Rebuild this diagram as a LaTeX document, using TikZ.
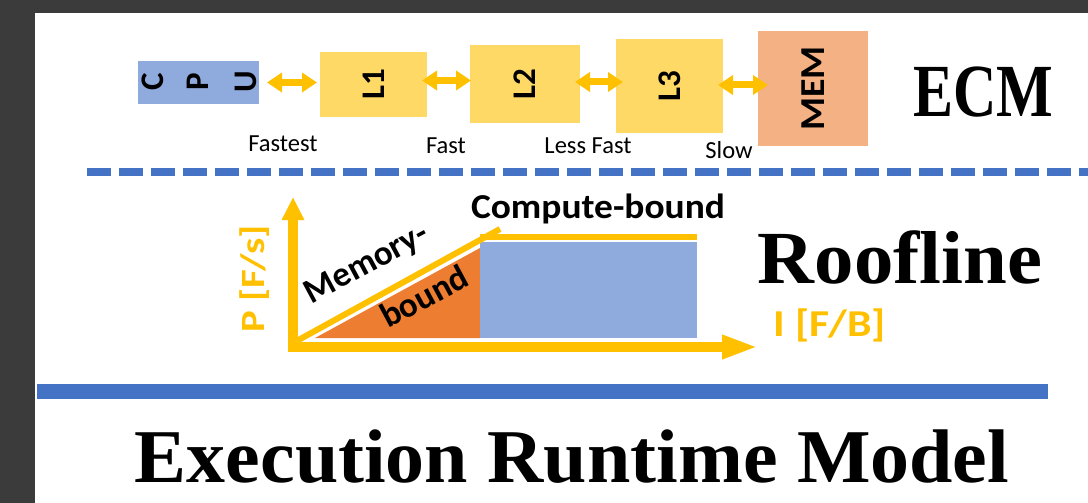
\documentclass[tikz,border=0pt]{standalone}
\usepackage{fontspec}
\setmainfont{Liberation Serif}
\setsansfont{Carlito}
\usetikzlibrary{arrows.meta,calc}
\definecolor{cpublue}{HTML}{8FAADC}
\definecolor{cacheyel}{HTML}{FFD966}
\definecolor{memorg}{HTML}{F4B183}
\definecolor{gold}{HTML}{FFC000}
\definecolor{roofor}{HTML}{ED7D31}
\definecolor{rule}{HTML}{4472C4}
\definecolor{frame}{HTML}{3B3B3B}
\tikzset{
  box/.style={inner sep=0pt, outer sep=0pt, anchor=north west},
  vlabel/.style={font=\sffamily\bfseries\fontsize{33}{33}\selectfont, rotate=90, inner sep=0pt},
  link/.style={gold, line width=7pt,
    {Triangle[length=15pt,width=19pt]}-{Triangle[length=15pt,width=19pt]}},
  speed/.style={font=\sffamily\fontsize{24.5}{24.5}\selectfont, inner sep=0pt},
  title/.style={font=\rmfamily\bfseries\fontsize{75}{75}\selectfont, inner sep=0pt},
  axis/.style={gold, line width=10pt},
  roof/.style={gold, line width=6pt},
  regime/.style={font=\sffamily\bfseries\fontsize{35}{35}\selectfont, inner sep=0pt},
  unit/.style={gold, font=\sffamily\bfseries\fontsize{38}{38}\selectfont, inner sep=0pt}
}
\begin{document}
\begin{tikzpicture}[x=1pt, y=-1pt]
% canvas
\fill[frame] (0,0) rectangle (1088,503);
\fill[white] (35,13) rectangle (1088,503);
\useasboundingbox (0,0) rectangle (1088,503);

% ---- memory hierarchy ----
\node[box, fill=cpublue, minimum width=121pt, minimum height=43pt] (cpu) at (138,61) {};
\node[vlabel] (cc) at (152.5,82) {C};
\node[vlabel] (cp) at (198,82) {P};
\node[vlabel] (cu) at (246,82) {U};
\node[box, fill=cacheyel, minimum width=107pt, minimum height=65pt] (l1) at (320,52) {};
\node[vlabel] at (l1.center) {L1};
\node[box, fill=cacheyel, minimum width=110pt, minimum height=78pt] (l2) at (470,45) {};
\node[vlabel] at (l2.center) {L2};
\node[box, fill=cacheyel, minimum width=107pt, minimum height=94pt] (l3) at (616,39) {};
\node[vlabel] at (l3.center) {L3};
\node[box, fill=memorg, minimum width=110pt, minimum height=115pt] (mem) at (758,31) {};
\node[vlabel, font=\sffamily\bfseries\fontsize{35}{35}\selectfont] at (mem.center) {\scalebox{1.08}[1]{MEM}};

\draw[link, shorten <=8pt, shorten >=3pt] (cpu.east) -- (cpu.east -| l1.west);
\draw[link, shorten <=-5pt, shorten >=-1pt] ([yshift=4pt]l1.east) -- ([yshift=4pt]l1.east -| l2.west);
\draw[link, shorten <=-5pt, shorten >=-7pt] ([yshift=2pt]l2.east) -- ([yshift=2pt]l2.east -| l3.west);
\draw[link, shorten <=-5pt, shorten >=-10pt] ([yshift=1pt]l3.east) -- ([yshift=1pt]l3.east -| mem.west);

\node[speed] (s1) at (283,144) {Fastest};
\node[speed] (s2) at (446,146) {Fast};
\node[speed] (s3) at (588,146) {Less Fast};
\node[speed] (s4) at (729,150) {Slow};

\node[title, xscale=0.8] (ecm) at (983,92) {ECM};

% separator
\draw[rule, line width=8pt, dash pattern=on 24pt off 8pt] (87,172) -- (1088,172);

% ---- roofline plot ----
\coordinate (o) at (293,347);
\fill[roofor] (315,338) -- (480,338) -- (480,248) -- cycle;
\fill[cpublue] (480,242) rectangle (697,338);
\draw[roof] (293,343) -- (500,229);
\draw[roof] (480,237) -- (697,237);
\draw[axis, -{Triangle[length=36pt,width=22pt]}] (288,347) -- (758,347);
\draw[axis, -{Triangle[length=23pt,width=21pt]}] (293,352) -- (293,197);

\node[regime] (cb) at (598,209) {\scalebox{1.07}[1]{Compute-bound}};
\node[regime, rotate=28.2] (mb1) at (367,265) {Memory-};
\node[regime, rotate=28.2] (mb2) at (424,296) {bound};
\node[unit, rotate=90, font=\sffamily\bfseries\fontsize{34}{34}\selectfont] (py) at (255,279) {\scalebox{1.2}[1]{P [F/s]}};
\node[unit] (ix) at (830,325) {\scalebox{1.15}[1]{I [F/B]}};

\node[title, xscale=1.05] (rl) at (900,257) {Roofline};

% bottom rule and heading
\draw[rule, line width=15pt] (37,391) -- (1048,391);
\node[title, font=\rmfamily\bfseries\fontsize{76}{76}\selectfont, xscale=1.025] (erm) at (572,457) {Execution Runtime Model};
\end{tikzpicture}
\end{document}
